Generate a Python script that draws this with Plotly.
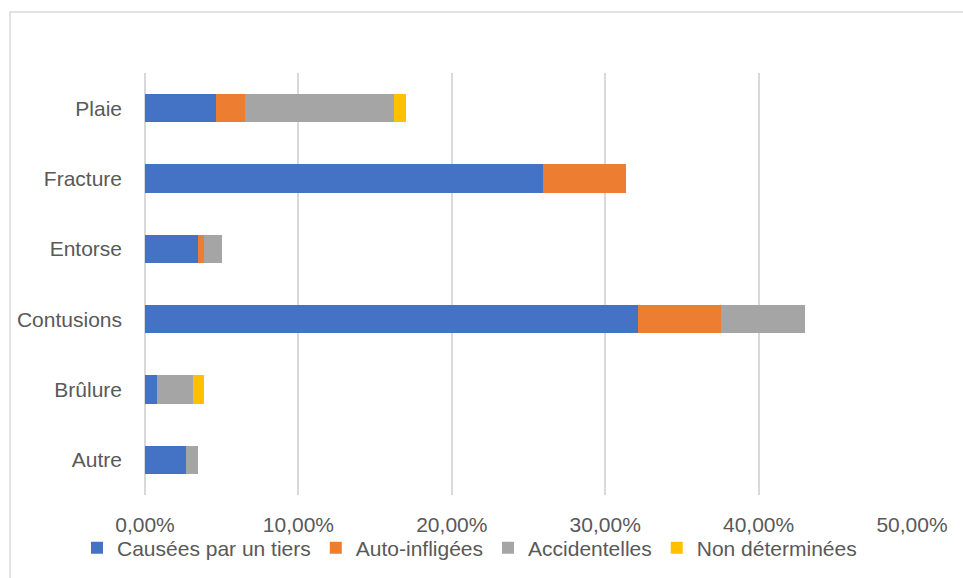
import plotly.graph_objects as go

categories = ["Plaie", "Fracture", "Entorse", "Contusions", "Brûlure", "Autre"]
series_names = ["Causées par un tiers", "Auto-infligées", "Accidentelles", "Non déterminées"]
causees = [4.63, 25.96, 3.46, 32.14, 0.75, 2.67]
auto = [1.91, 5.39, 0.37, 5.43, 0.0, 0.0]
accid = [9.69, 0.0, 1.19, 5.46, 2.35, 0.78]
nondet = [0.78, 0.0, 0.0, 0.0, 0.76, 0.0]
colors = ["#4472C4", "#ED7D31", "#A5A5A5", "#FFC000"]
tick_vals = [0, 10, 20, 30, 40, 50]
tick_text = [f"{v:.2f}".replace(".", ",") + "%" for v in tick_vals]

W, H = 963, 578
L, R, T, B = 145, 51, 73, 83
pw, ph = W - L - R, H - T - B

fig = go.Figure()
for name, vals, col in zip(series_names, [causees, auto, accid, nondet], colors):
    fig.add_trace(go.Bar(
        y=categories, x=vals, name=name, orientation="h",
        marker=dict(color=col, line=dict(width=0)),
        hoverinfo="skip",
    ))

font = dict(family="Liberation Sans, Arial, sans-serif", size=21, color="#595959")

fig.update_layout(
    width=W, height=H,
    margin=dict(l=L, r=R, t=T, b=B, autoexpand=False),
    barmode="stack", bargap=0.6,
    plot_bgcolor="white", paper_bgcolor="white",
    font=font,
    xaxis=dict(range=[0, 50], tickvals=tick_vals, ticktext=tick_text,
               showgrid=True, gridcolor="#D9D9D9", gridwidth=1.5,
               zeroline=True, zerolinecolor="#D9D9D9", zerolinewidth=1.5,
               showline=False, ticks="", ticklabelstandoff=15, fixedrange=True),
    yaxis=dict(categoryorder="array", categoryarray=categories[::-1],
               showgrid=False, zeroline=False, showline=False, ticks="",
               ticklabelstandoff=22, fixedrange=True),
    legend=dict(orientation="h", x=(77 - L) / pw, xanchor="left",
                y=(ph - (548 - T)) / ph, yanchor="middle",
                font=font, traceorder="normal", itemwidth=30,
                tracegroupgap=0,
                bgcolor="rgba(0,0,0,0)"),
    showlegend=True,
    shapes=[dict(type="rect", xref="paper", yref="paper",
                 x0=(10 - L) / pw, x1=(W + 20 - L) / pw,
                 y0=(ph - (H + 20 - T)) / ph, y1=(ph - (12 - T)) / ph,
                 line=dict(color="#D9D9D9", width=1.5), layer="below")],
)

fig.write_html("out.html", config={"displayModeBar": False},
               post_script="document.body.style.margin='0';")
